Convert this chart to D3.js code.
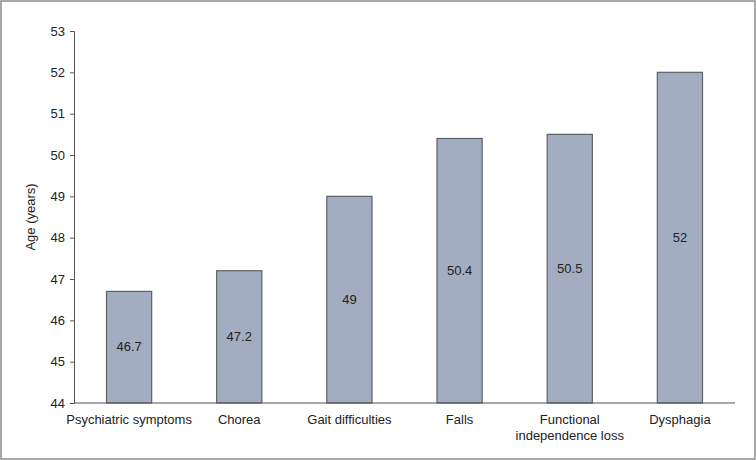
<!DOCTYPE html>
<html><head><meta charset="utf-8">
<script src="https://cdn.jsdelivr.net/npm/d3@7"></script>
<style>body{margin:0;background:#fff}svg{display:block}text{font-family:"Liberation Sans",Arial,sans-serif}</style>
</head><body><svg id="c" width="756" height="460"></svg>
<script>
const categories = [["Psychiatric symptoms"],["Chorea"],["Gait difficulties"],["Falls"],["Functional","independence loss"],["Dysphagia"]];
const values = [46.7, 47.2, 49, 50.4, 50.5, 52];
const valueLabels = ["46.7","47.2","49","50.4","50.5","52"];
const yTicks = [44,45,46,47,48,49,50,51,52,53];

(function(){
const svg = d3.select("#c");
svg.append("rect").attr("x",1).attr("y",1).attr("width",754).attr("height",458)
  .attr("fill","#fff").attr("stroke","#8c8c8c").attr("stroke-width",1.5);

const mLeft=74, mRight=735, mTop=31, mBottom=403;
const x = d3.scaleBand().domain(categories.map((d,i)=>i)).range([mLeft,mRight]).paddingInner(0.59).paddingOuter(0.295);
const y = d3.scaleLinear().domain([44,53]).range([mBottom,mTop]);

const yAxis = svg.append("g").attr("transform",`translate(${mLeft},0)`)
  .call(d3.axisLeft(y).tickValues(yTicks).tickSize(4).tickPadding(5).tickFormat(d3.format("d")));
yAxis.select(".domain").attr("stroke","#555");
yAxis.selectAll(".tick line").attr("stroke","#555");
yAxis.selectAll("text").attr("font-size",13).attr("fill","#222").attr("font-family","Liberation Sans, Arial, sans-serif");

svg.append("g").selectAll("rect").data(values).join("rect")
  .attr("x",(d,i)=>x(i)).attr("width",x.bandwidth())
  .attr("y",d=>y(d)).attr("height",d=>y(44)-y(d))
  .attr("fill","#a3adc2").attr("stroke","#5e6068").attr("stroke-width",1.2);

svg.append("g").selectAll("text").data(values).join("text")
  .attr("x",(d,i)=>x(i)+x.bandwidth()/2).attr("y",d=>y((44+d)/2)+4)
  .attr("text-anchor","middle").attr("font-size",13).attr("fill","#222")
  .text((d,i)=>valueLabels[i]);

svg.append("line").attr("x1",mLeft).attr("x2",mRight).attr("y1",mBottom).attr("y2",mBottom)
  .attr("stroke","#555").attr("stroke-width",1);

const xl = svg.append("g").selectAll("text").data(categories).join("text")
  .attr("x",(d,i)=>x(i)+x.bandwidth()/2).attr("y",424)
  .attr("text-anchor","middle").attr("font-size",13).attr("fill","#222");
xl.each(function(d){
  const t=d3.select(this);
  d.forEach((line,j)=>t.append("tspan").attr("x",t.attr("x")).attr("dy",j===0?0:16).text(line));
});

svg.append("text").attr("transform","translate(35,217) rotate(-90)")
  .attr("text-anchor","middle").attr("font-size",13).attr("fill","#222").text("Age (years)");
})();
</script></body></html>
